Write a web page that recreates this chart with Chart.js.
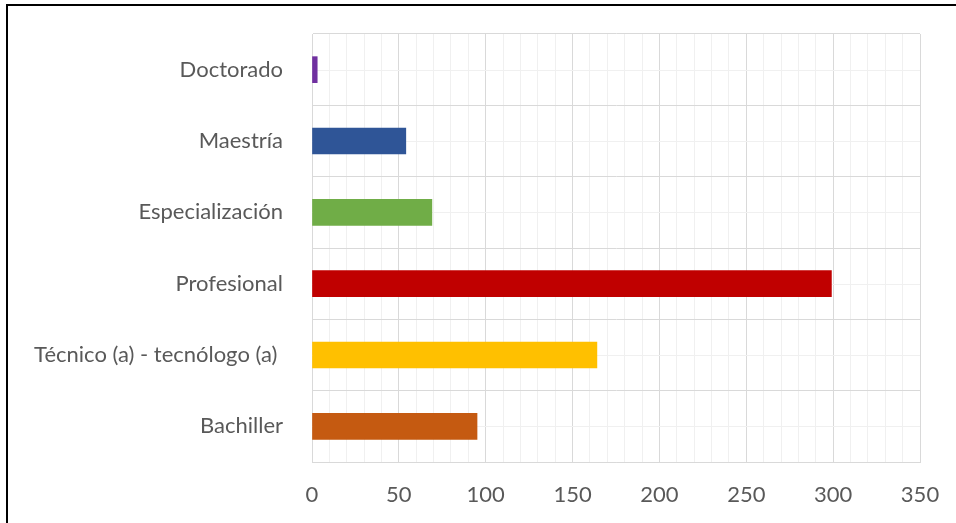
<!DOCTYPE html>
<html>
<head>
<meta charset="utf-8">
<script src="https://cdn.jsdelivr.net/npm/chart.js@4/dist/chart.umd.min.js"></script>
<style>
  html, body { margin: 0; padding: 0; background: #ffffff; }
  #wrap { position: relative; width: 956px; height: 523px; overflow: hidden; }
  #frame { position: absolute; left: 6px; top: 4px; width: 960px; height: 530px;
           border-left: 2px solid #000; border-top: 2px solid #000; pointer-events: none; }
  canvas { position: absolute; left: 0; top: 0; }
</style>
</head>
<body>
<div id="wrap">
  <canvas id="c" width="956" height="523"></canvas>
  <div id="frame"></div>
</div>
<script>
const categories = ['Doctorado', 'Maestría', 'Especialización', 'Profesional', 'Técnico (a) - tecnólogo (a) ', 'Bachiller'];
const values = [3, 54, 69, 299, 164, 95];
const barColors = ['#7030A0', '#2F5597', '#70AD47', '#C00000', '#FFC000', '#C55A11'];
const xMin = 0;
const xMax = 350;
const xMajorStep = 50;
const xMinorStep = 10;

const FONT = 'Lato';
const TEXT = '#595959';
const MAJOR = '#d9d9d9';
const MINOR = '#f0f0f0';

const minorCategoryLines = {
  id: 'minorCategoryLines',
  beforeDatasetsDraw(chart) {
    const y = chart.scales.y, a = chart.chartArea, ctx = chart.ctx;
    ctx.save();
    ctx.strokeStyle = MINOR;
    ctx.lineWidth = 1;
    for (let i = 0; i < categories.length; i++) {
      const py = Math.round(y.getPixelForValue(i)) + 0.5;
      ctx.beginPath();
      ctx.moveTo(a.left, py);
      ctx.lineTo(a.right, py);
      ctx.stroke();
    }
    ctx.restore();
  }
};

new Chart(document.getElementById('c'), {
  type: 'bar',
  data: {
    labels: categories,
    datasets: [{
      data: values,
      backgroundColor: barColors,
      borderWidth: 0,
      barThickness: 26
    }]
  },
  options: {
    indexAxis: 'y',
    responsive: false,
    devicePixelRatio: 1,
    animation: false,
    layout: { padding: { top: 34, right: 36, left: 0, bottom: 0 } },
    plugins: { legend: { display: false }, tooltip: { enabled: false } },
    scales: {
      x: {
        min: xMin, max: xMax,
        afterFit(s) { s.height = 61; s.paddingLeft = 0; s.paddingRight = 0; },
        ticks: {
          stepSize: xMinorStep,
          autoSkip: false,
          maxRotation: 0,
          padding: 20,
          color: TEXT,
          font: { family: FONT, size: 22 },
          callback: (v) => (v % xMajorStep === 0 ? String(v) : '')
        },
        grid: {
          drawTicks: false,
          color: (c) => (c.tick && c.tick.value % xMajorStep === 0 ? MAJOR : MINOR),
          lineWidth: 1
        },
        border: { color: MAJOR }
      },
      y: {
        afterFit(s) { s.width = 312; s.paddingTop = 0; s.paddingBottom = 0; },
        ticks: {
          padding: 29,
          color: TEXT,
          font: { family: FONT, size: 22 }
        },
        grid: { drawTicks: false, color: MAJOR, offset: true },
        border: { color: MAJOR }
      }
    }
  },
  plugins: [minorCategoryLines]
});
</script>
</body>
</html>
